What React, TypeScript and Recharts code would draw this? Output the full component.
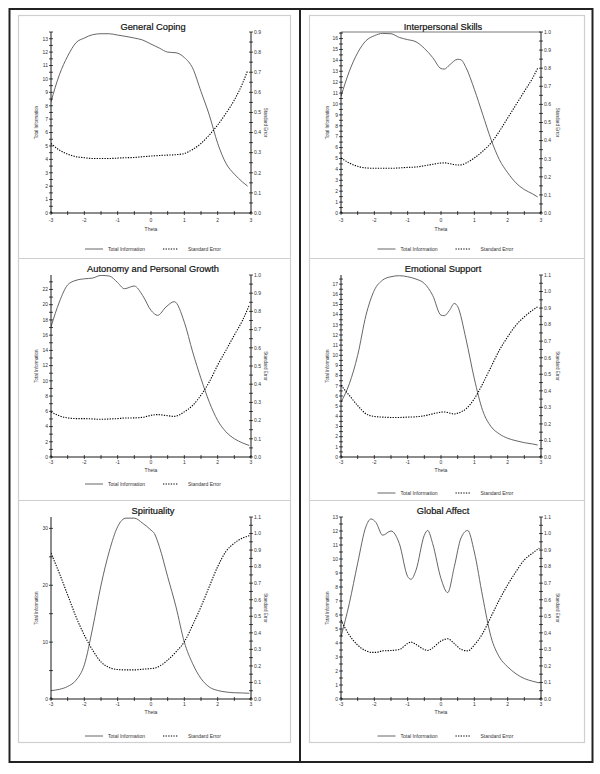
import React from 'react';
import { LineChart, Line, XAxis, YAxis, Legend, ReferenceLine } from 'recharts';

const FONT = '"Liberation Sans", Arial, sans-serif';

// ---------- data ----------
const copingTheta = [-3, -2.75, -2.5, -2.25, -2, -1.75, -1.5, -1.25, -1, -0.75, -0.5, -0.25, 0, 0.25, 0.5, 0.75, 1, 1.25, 1.5, 1.75, 2, 2.25, 2.5, 2.75, 2.9];
const copingInfo = [8.3, 10.3, 11.7, 12.7, 13.05, 13.3, 13.37, 13.37, 13.27, 13.17, 13.05, 12.9, 12.6, 12.3, 12.0, 11.95, 11.6, 10.8, 9.06, 7.3, 5.2, 3.7, 2.9, 2.3, 2.0];
const copingSE = [0.346, 0.313, 0.293, 0.28, 0.275, 0.271, 0.271, 0.271, 0.273, 0.275, 0.276, 0.28, 0.283, 0.286, 0.288, 0.29, 0.296, 0.316, 0.346, 0.388, 0.438, 0.496, 0.562, 0.646, 0.709];

const interTheta = [-3, -2.75, -2.5, -2.25, -2, -1.75, -1.5, -1.25, -1, -0.75, -0.5, -0.25, 0, 0.1, 0.25, 0.5, 0.6, 0.75, 1, 1.25, 1.5, 1.75, 2, 2.25, 2.5, 2.75, 2.9];
const interInfo = [10.7, 13.0, 14.7, 15.8, 16.26, 16.47, 16.44, 16.1, 15.9, 15.7, 15.1, 14.26, 13.25, 13.2, 13.56, 14.1, 14.05, 13.34, 11.35, 9.05, 6.75, 4.9, 3.7, 2.76, 2.15, 1.75, 1.47];
const interSE = [0.304, 0.276, 0.258, 0.249, 0.247, 0.247, 0.247, 0.249, 0.252, 0.254, 0.261, 0.269, 0.276, 0.277, 0.273, 0.265, 0.266, 0.276, 0.304, 0.341, 0.387, 0.451, 0.525, 0.598, 0.672, 0.746, 0.8];

const autoTheta = [-3, -2.75, -2.5, -2.25, -2, -1.75, -1.5, -1.25, -1, -0.8, -0.5, -0.25, 0, 0.2, 0.45, 0.7, 1, 1.25, 1.5, 1.75, 2, 2.25, 2.5, 2.75, 2.95];
const autoInfo = [17.1, 20.35, 22.6, 23.2, 23.4, 23.5, 23.85, 23.76, 22.9, 22.1, 22.45, 21.2, 19.26, 18.6, 19.7, 20.4, 17.7, 13.8, 10.3, 7.2, 4.8, 3.3, 2.4, 1.84, 1.5];
const autoSE = [0.248, 0.226, 0.215, 0.211, 0.211, 0.209, 0.207, 0.209, 0.211, 0.214, 0.215, 0.218, 0.229, 0.233, 0.228, 0.223, 0.248, 0.284, 0.34, 0.413, 0.505, 0.587, 0.67, 0.752, 0.835];

const emoTheta = [-3, -2.75, -2.5, -2.25, -2, -1.75, -1.5, -1.25, -1, -0.75, -0.5, -0.25, 0, 0.1, 0.25, 0.4, 0.5, 0.75, 1, 1.25, 1.5, 1.75, 2, 2.25, 2.5, 2.75, 2.9];
const emoInfo = [5.4, 7.2, 10.0, 13.95, 16.4, 17.4, 17.73, 17.83, 17.73, 17.5, 17.07, 15.9, 13.95, 13.9, 14.4, 15.1, 14.8, 11.6, 7.7, 4.57, 3.0, 2.27, 1.84, 1.6, 1.41, 1.28, 1.18];
const emoSE = [0.433, 0.372, 0.311, 0.261, 0.245, 0.241, 0.239, 0.239, 0.241, 0.243, 0.249, 0.261, 0.271, 0.272, 0.266, 0.26, 0.265, 0.291, 0.352, 0.443, 0.544, 0.645, 0.726, 0.797, 0.847, 0.888, 0.908];

const spirTheta = [-3, -2.75, -2.5, -2.25, -2, -1.75, -1.5, -1.25, -1, -0.75, -0.5, -0.25, 0, 0.1, 0.25, 0.5, 0.75, 1, 1.25, 1.5, 1.75, 2, 2.25, 2.5, 2.75, 2.95];
const spirInfo = [1.47, 1.7, 2.2, 3.3, 6.0, 12.5, 20.0, 26.0, 30.3, 31.8, 31.8, 30.9, 29.7, 29.1, 26.8, 21.5, 16.2, 10.0, 6.2, 3.6, 2.1, 1.5, 1.23, 1.1, 1.06, 1.0];
const spirSE = [0.882, 0.76, 0.629, 0.497, 0.386, 0.295, 0.224, 0.19, 0.178, 0.176, 0.176, 0.18, 0.184, 0.186, 0.198, 0.235, 0.285, 0.346, 0.447, 0.558, 0.68, 0.8, 0.892, 0.942, 0.973, 0.987];

const globTheta = [-3, -2.75, -2.5, -2.25, -2.1, -1.95, -1.75, -1.5, -1.25, -1, -0.9, -0.75, -0.5, -0.4, -0.25, 0, 0.2, 0.4, 0.6, 0.8, 1, 1.25, 1.5, 1.75, 2, 2.25, 2.5, 2.75, 2.95];
const globInfo = [4.44, 6.83, 9.7, 12.33, 12.86, 12.6, 11.7, 12.0, 11.1, 8.75, 8.55, 9.2, 11.7, 12.04, 11.1, 8.6, 7.6, 9.46, 11.5, 12.04, 10.5, 7.3, 4.44, 3.0, 2.3, 1.8, 1.46, 1.27, 1.15];
const globSE = [0.477, 0.386, 0.326, 0.291, 0.282, 0.282, 0.291, 0.293, 0.299, 0.336, 0.344, 0.33, 0.299, 0.293, 0.309, 0.35, 0.364, 0.335, 0.3, 0.291, 0.326, 0.396, 0.497, 0.599, 0.69, 0.77, 0.841, 0.882, 0.912];

const thetaMajor = [-3, -2, -1, 0, 1, 2, 3];

// ---------- helpers ----------
const range = (start: number, end: number, step: number) => {
  const out: number[] = [];
  const n = Math.round((end - start) / step);
  for (let i = 0; i <= n; i++) out.push(+(start + i * step).toFixed(4));
  return out;
};
const isIn = (arr: number[], v: number) => arr.some((m) => Math.abs(m - v) < 1e-6);

const thetaTicks = range(-3, 3, 0.5);

type Cfg = {
  title: string;
  theta: number[];
  info: number[];
  se: number[];
  left: number;
  top: number;
  width: number;
  height: number;
  lw: number;
  rw: number;
  plotBottom: number;
  legendBottom: number;
  xh: number;
  infoMax: number;
  infoTicks: number[];
  infoMajor: number[];
  seMax: number;
  seTicks: number[];
  seMajor: number[];
  tickDy: number;
  thetaDy: number;
  infoDx: number;
  seDx: number;
  topLine?: boolean;
};

const row1 = { top: 15, height: 243, plotBottom: 213, legendBottom: 4, xh: 31, tickDy: 7, thetaDy: 16 };
const row2L = { top: 258, height: 242, plotBottom: 457, legendBottom: 11, xh: 22, tickDy: 5.5, thetaDy: 13.5 };
const row2R = { top: 258, height: 242, plotBottom: 457, legendBottom: 2, xh: 31, tickDy: 5.5, thetaDy: 13.5 };
const row3 = { top: 500, height: 243, plotBottom: 699, legendBottom: 2, xh: 32, tickDy: 5.5, thetaDy: 13.5 };
const colL = { left: 18, width: 272, lw: 33, rw: 39, infoDx: 15, seDx: 15 };
const colR = { left: 309, width: 275, lw: 32, rw: 43, infoDx: 14, seDx: 17 };

const se09 = { seMax: 0.9, seTicks: range(0, 0.9, 0.05), seMajor: range(0, 0.9, 0.1) };
const se10 = { seMax: 1.0, seTicks: range(0, 1.0, 0.05), seMajor: range(0, 1.0, 0.1) };
const se11 = { seMax: 1.1, seTicks: range(0, 1.1, 0.05), seMajor: range(0, 1.1, 0.1) };

const panels: Cfg[] = [
  { title: 'General Coping', theta: copingTheta, info: copingInfo, se: copingSE, ...colL, ...row1, infoMax: 13.5, infoTicks: range(0, 13.5, 0.5), infoMajor: range(0, 13, 1), ...se09 },
  { title: 'Interpersonal Skills', theta: interTheta, info: interInfo, se: interSE, ...colR, ...row1, infoMax: 16.6, infoTicks: range(0, 16.5, 0.5), infoMajor: range(0, 16, 1), ...se10, topLine: true },
  { title: 'Autonomy and Personal Growth', theta: autoTheta, info: autoInfo, se: autoSE, ...colL, ...row2L, infoMax: 23.9, infoTicks: range(0, 23, 1), infoMajor: range(0, 22, 2), ...se10 },
  { title: 'Emotional Support', theta: emoTheta, info: emoInfo, se: emoSE, ...colR, ...row2R, infoMax: 17.9, infoTicks: range(0, 17.5, 0.5), infoMajor: range(0, 17, 1), ...se11 },
  { title: 'Spirituality', theta: spirTheta, info: spirInfo, se: spirSE, ...colL, ...row3, infoMax: 32, infoTicks: range(0, 30, 5), infoMajor: [0, 10, 20, 30], ...se11 },
  { title: 'Global Affect', theta: globTheta, info: globInfo, se: globSE, ...colR, ...row3, infoMax: 13, infoTicks: range(0, 13, 0.5), infoMajor: range(0, 13, 1), ...se11 },
];

const TXT = '#333';
const SE_DASH = '1.3 1.3';

const makeLeftTick = (majors: number[]) => (props: any) => {
  const { x, y, payload } = props;
  const v = payload.value;
  return (
    <g>
      <line x1={x - 2} x2={x + 2} y1={y} y2={y} stroke="#000" strokeWidth={0.7} />
      {isIn(majors, v) && (
        <text x={x - 3} y={y} dy={1.8} textAnchor="end" fontSize={5} fill={TXT} fontFamily={FONT}>
          {String(v)}
        </text>
      )}
    </g>
  );
};

const makeRightTick = (majors: number[]) => (props: any) => {
  const { x, y, payload } = props;
  const v = payload.value;
  return (
    <g>
      <line x1={x - 2} x2={x + 2} y1={y} y2={y} stroke="#000" strokeWidth={0.7} />
      {isIn(majors, v) && (
        <text x={x + 3} y={y} dy={1.8} textAnchor="start" fontSize={5} fill={TXT} fontFamily={FONT}>
          {v.toFixed(1)}
        </text>
      )}
    </g>
  );
};

const makeXTick = (dy: number) => (props: any) => {
  const { x, y, payload } = props;
  const v = payload.value;
  return (
    <g>
      <line x1={x} x2={x} y1={y - 2} y2={y + 2} stroke="#000" strokeWidth={0.7} />
      {isIn(thetaMajor, v) && (
        <text x={x} y={y + dy} dy={1.8} textAnchor="middle" fontSize={5} fill={TXT} fontFamily={FONT}>
          {String(v)}
        </text>
      )}
    </g>
  );
};

const LegendBox = ({ width }: { width: number }) => {
  const s = width / 2 - 69;
  return (
    <svg width={width} height={10} style={{ display: 'block' }}>
      <line x1={s} x2={s + 18} y1={5} y2={5} stroke="#555" strokeWidth={0.9} />
      <text x={s + 23} y={5} dy={1.8} fontSize={5} fill={TXT} fontFamily={FONT}>Total Information</text>
      <line x1={s + 78} x2={s + 93} y1={5} y2={5} stroke="#000" strokeWidth={1.1} strokeDasharray={SE_DASH} />
      <text x={s + 103} y={5} dy={1.8} fontSize={5} fill={TXT} fontFamily={FONT}>Standard Error</text>
    </svg>
  );
};

const Panel = ({ c }: { c: Cfg }) => {
  const data = c.theta.map((t, i) => ({ theta: t, info: c.info[i], se: c.se[i] }));
  const plotTop = 17;
  const plotBottom = c.plotBottom - c.top;
  const plotLeft = c.lw;
  const plotRight = c.width - c.rw;
  const midY = (plotTop + plotBottom) / 2;
  const midX = (plotLeft + plotRight) / 2;
  return (
    <div style={{ position: 'absolute', left: c.left, top: c.top, width: c.width, height: c.height }}>
      <LineChart
        width={c.width}
        height={c.height}
        data={data}
        margin={{ top: plotTop, right: 0, left: 0, bottom: c.legendBottom }}
      >
        <XAxis
          dataKey="theta"
          type="number"
          domain={[-3, 3]}
          ticks={thetaTicks}
          interval={0}
          height={c.xh}
          tickLine={false}
          tickSize={0}
          tickMargin={0}
          allowDataOverflow
          axisLine={{ stroke: '#000', strokeWidth: 0.9 }}
          tick={makeXTick(c.tickDy)}
          label={() => (
            <text x={midX} y={plotBottom + c.thetaDy} dy={1.8} textAnchor="middle" fontSize={5} fill={TXT} fontFamily={FONT}>
              Theta
            </text>
          )}
        />
        <YAxis
          yAxisId="info"
          orientation="left"
          type="number"
          width={c.lw}
          domain={[0, c.infoMax]}
          ticks={c.infoTicks}
          interval={0}
          tickLine={false}
          tickSize={0}
          tickMargin={0}
          allowDataOverflow
          axisLine={{ stroke: '#000', strokeWidth: 0.9 }}
          tick={makeLeftTick(c.infoMajor)}
          label={() => {
            const x = plotLeft - c.infoDx;
            return (
              <text x={x} y={midY} dy={1.6} textAnchor="middle" fontSize={4.5} fill={TXT} fontFamily={FONT} transform={`rotate(-90 ${x} ${midY})`}>
                Total Information
              </text>
            );
          }}
        />
        <YAxis
          yAxisId="se"
          orientation="right"
          type="number"
          width={c.rw}
          domain={[0, c.seMax]}
          ticks={c.seTicks}
          interval={0}
          tickLine={false}
          tickSize={0}
          tickMargin={0}
          allowDataOverflow
          axisLine={{ stroke: '#000', strokeWidth: 0.9 }}
          tick={makeRightTick(c.seMajor)}
          label={() => {
            const x = plotRight + c.seDx;
            return (
              <text x={x} y={midY} dy={1.6} textAnchor="middle" fontSize={4.5} fill={TXT} fontFamily={FONT} transform={`rotate(90 ${x} ${midY})`}>
                Standard Error
              </text>
            );
          }}
        />
        {c.topLine && <ReferenceLine yAxisId="info" y={c.infoMax} stroke="#555" strokeWidth={0.8} ifOverflow="visible" />}
        <Legend verticalAlign="bottom" content={() => <LegendBox width={c.width} />} />
        <Line yAxisId="info" dataKey="info" type="monotone" stroke="#555" strokeWidth={0.9} dot={false} activeDot={false} isAnimationActive={false} />
        <Line yAxisId="se" dataKey="se" type="monotone" stroke="#000" strokeWidth={1.1} strokeDasharray={SE_DASH} dot={false} activeDot={false} isAnimationActive={false} />
      </LineChart>
    </div>
  );
};

const titleY = [26.5, 26.5, 269, 269, 511, 511];

export default function App() {
  return (
    <div style={{ position: 'absolute', left: 0, top: 0, width: 600, height: 774, background: '#fff' }}>
      <svg width={600} height={774} style={{ position: 'absolute', left: 0, top: 0 }}>
        <rect x={9.5} y={9} width={583} height={753} fill="none" stroke="#222" strokeWidth={2} />
        <line x1={300} x2={300} y1={9} y2={762} stroke="#222" strokeWidth={2} />
        <rect x={18.5} y={15.5} width={272} height={727} fill="none" stroke="#cfcfcf" strokeWidth={1.2} />
        <rect x={309.5} y={15.5} width={275} height={727} fill="none" stroke="#cfcfcf" strokeWidth={1.2} />
        <line x1={18.5} x2={290.5} y1={258.5} y2={258.5} stroke="#cfcfcf" strokeWidth={1.2} />
        <line x1={18.5} x2={290.5} y1={500.5} y2={500.5} stroke="#cfcfcf" strokeWidth={1.2} />
        <line x1={309.5} x2={584.5} y1={258.5} y2={258.5} stroke="#cfcfcf" strokeWidth={1.2} />
        <line x1={309.5} x2={584.5} y1={500.5} y2={500.5} stroke="#cfcfcf" strokeWidth={1.2} />
        {panels.map((c, i) => (
          <text
            key={c.title}
            x={c.left + (c.lw + c.width - c.rw) / 2 + 2}
            y={titleY[i]}
            dy={3.3}
            textAnchor="middle"
            fontSize={9.3}
            fill="#111"
            stroke="#111"
            strokeWidth={0.2}
            fontFamily={FONT}
          >
            {c.title}
          </text>
        ))}
      </svg>
      {panels.map((c) => (
        <Panel key={c.title} c={c} />
      ))}
    </div>
  );
}
